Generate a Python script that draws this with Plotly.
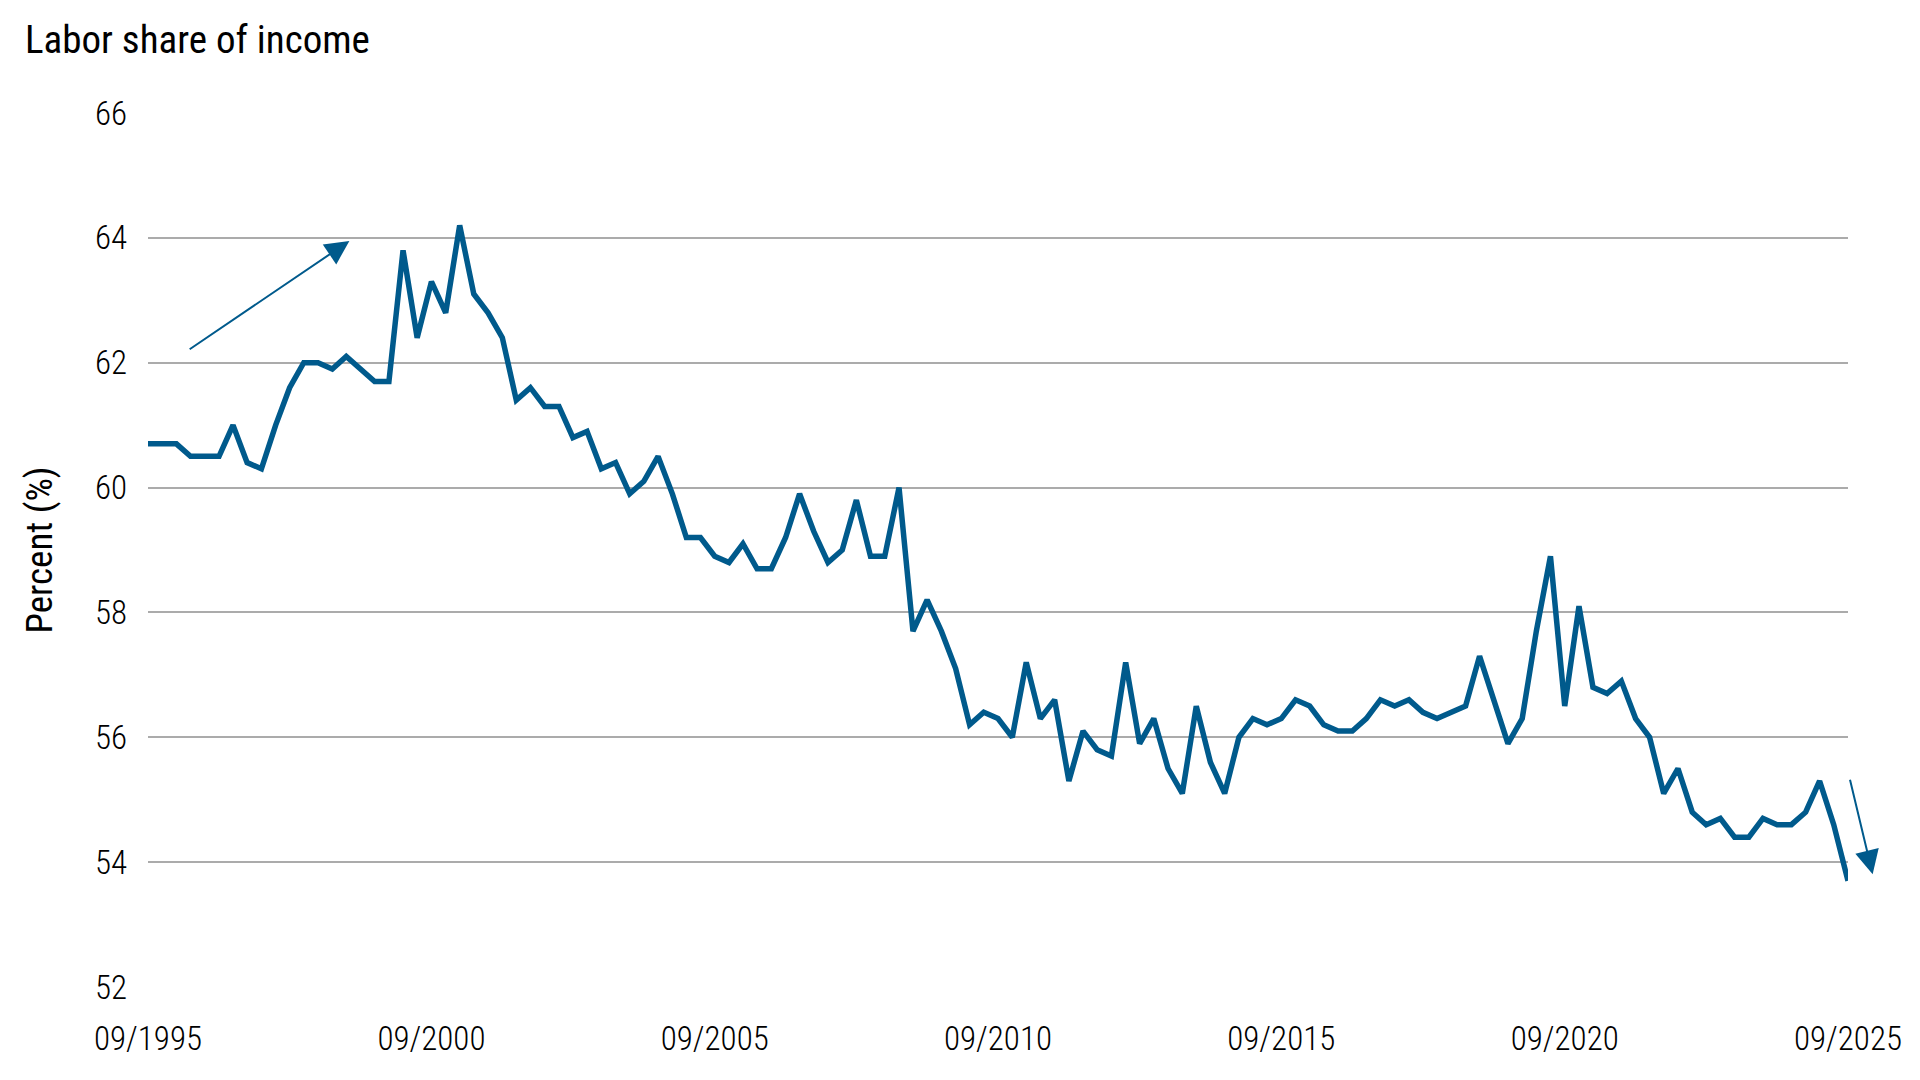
import pandas as pd
import plotly.graph_objects as go

# quarterly observations, 09/1995 .. 09/2025
quarters = pd.date_range("1995-09-30", "2025-09-30", freq="QE")

labor_share = [
    60.7, 60.7, 60.7, 60.5, 60.5, 60.5, 61.0, 60.4, 60.3, 61.0,
    61.6, 62.0, 62.0, 61.9, 62.1, 61.9, 61.7, 61.7, 63.8, 62.4,
    63.3, 62.8, 64.2, 63.1, 62.8, 62.4, 61.4, 61.6, 61.3, 61.3,
    60.8, 60.9, 60.3, 60.4, 59.9, 60.1, 60.5, 59.9, 59.2, 59.2,
    58.9, 58.8, 59.1, 58.7, 58.7, 59.2, 59.9, 59.3, 58.8, 59.0,
    59.8, 58.9, 58.9, 60.0, 57.7, 58.2, 57.7, 57.1, 56.2, 56.4,
    56.3, 56.0, 57.2, 56.3, 56.6, 55.3, 56.1, 55.8, 55.7, 57.2,
    55.9, 56.3, 55.5, 55.1, 56.5, 55.6, 55.1, 56.0, 56.3, 56.2,
    56.3, 56.6, 56.5, 56.2, 56.1, 56.1, 56.3, 56.6, 56.5, 56.6,
    56.4, 56.3, 56.4, 56.5, 57.3, 56.6, 55.9, 56.3, 57.7, 58.9,
    56.5, 58.1, 56.8, 56.7, 56.9, 56.3, 56.0, 55.1, 55.5, 54.8,
    54.6, 54.7, 54.4, 54.4, 54.7, 54.6, 54.6, 54.8, 55.3, 54.6,
    53.7,
]

tick_dates = ["1995-09-30", "2000-09-30", "2005-09-30", "2010-09-30",
              "2015-09-30", "2020-09-30", "2025-09-30"]
tick_text = ["09/1995", "09/2000", "09/2005", "09/2010",
             "09/2015", "09/2020", "09/2025"]
y_ticks = [52, 54, 56, 58, 60, 62, 64, 66]

BLUE = "#005A8C"
FONT = "Roboto Condensed, Liberation Sans Narrow, DejaVu Sans Condensed, sans-serif"

fig = go.Figure()
fig.add_trace(go.Scatter(x=quarters, y=labor_share, mode="lines",
                         line=dict(color=BLUE, width=5.5),
                         cliponaxis=False, hoverinfo="x+y", showlegend=False))

# trend arrows
fig.add_annotation(x="1999-04-20", y=63.95, ax="1996-06-15", ay=62.2,
                   xref="x", yref="y", axref="x", ayref="y", text="",
                   showarrow=True, arrowhead=2, arrowsize=2.4, arrowwidth=2,
                   arrowcolor=BLUE, standoff=0)
# second arrow sits right of the plot area, so place it in paper space
fig.add_annotation(x=1.0145, y=0.129, xref="paper", yref="paper",
                   ax=-23, ay=-96, text="",
                   showarrow=True, arrowhead=2, arrowsize=2.4, arrowwidth=2,
                   arrowcolor=BLUE, standoff=0)

fig.update_layout(
    width=1912, height=1072,
    paper_bgcolor="white", plot_bgcolor="white",
    font=dict(family=FONT, size=33, color="#000000", weight=300),
    margin=dict(l=140, r=72, t=105, b=93),
    title=dict(text="Labor share of income", font=dict(size=39, weight=400),
               xref="container", x=17 / 1912, xanchor="left",
               yref="container", y=1 - 45 / 1072, yanchor="bottom"),
    xaxis=dict(range=["1995-09-30", "2025-09-30"], tickvals=tick_dates,
               ticktext=tick_text, showgrid=False, zeroline=False,
               showline=False, ticks="", ticklabelstandoff=29),
    yaxis=dict(range=[52, 66], tickvals=y_ticks, showgrid=True,
               gridcolor="#ABABAB", gridwidth=1.5, zeroline=False,
               showline=False, ticks="", ticklabelstandoff=20,
               title=dict(text="Percent (%)", standoff=30,
                          font=dict(size=37, weight=400))),
)

fig.write_html("out.html")
